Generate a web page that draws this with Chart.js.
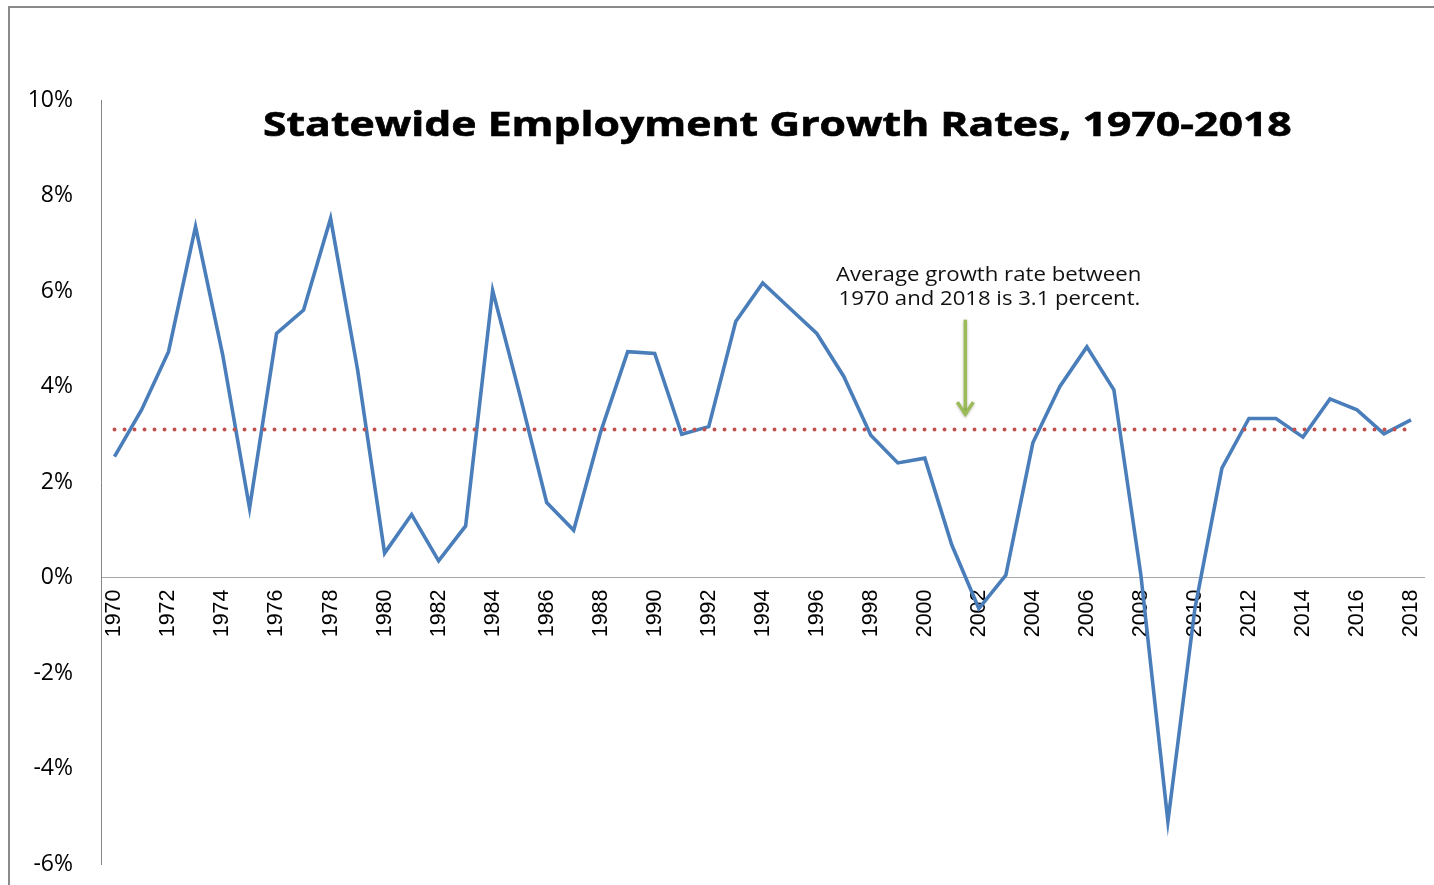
<!DOCTYPE html>
<html>
<head>
<meta charset="utf-8">
<title>Statewide Employment Growth Rates, 1970-2018</title>
<script src="https://cdn.jsdelivr.net/npm/chart.js@4.4.0/dist/chart.umd.min.js"></script>
<style>
  html, body { margin: 0; padding: 0; background: #fff; }
  #wrap { position: relative; width: 1434px; height: 885px; overflow: hidden; }
  #grafico { position: absolute; left: 0; top: 0; }
  .texto { position: absolute; white-space: nowrap; color: #000; font-family: "Open Sans", sans-serif; transform-origin: center top; }
  #titulo { font-weight: 700; font-size: 34px; line-height: 34px; -webkit-text-stroke: 0.6px #000; }
  .nota { font-size: 20px; line-height: 20px; color: #111; }
</style>
</head>
<body>
<div id="wrap">
  <canvas id="grafico" width="1434" height="885"></canvas>
  <div id="titulo" class="texto">Statewide Employment Growth Rates, 1970-2018</div>
  <div id="nota1" class="texto nota">Average growth rate between</div>
  <div id="nota2" class="texto nota">1970 and 2018 is 3.1 percent.</div>
</div>
<script>
// anos e taxas de crescimento (%)
const anos = ["1970","1971","1972","1973","1974","1975","1976","1977","1978","1979",
  "1980","1981","1982","1983","1984","1985","1986","1987","1988","1989",
  "1990","1991","1992","1993","1994","1995","1996","1997","1998","1999",
  "2000","2001","2002","2003","2004","2005","2006","2007","2008","2009",
  "2010","2011","2012","2013","2014","2015","2016","2017","2018"];

const taxas = [2.53, 3.51, 4.73, 7.35, 4.68, 1.45, 5.11, 5.60, 7.52, 4.35,
  0.51, 1.32, 0.35, 1.08, 6.01, 3.84, 1.57, 0.99, 3.05, 4.73,
  4.69, 3.00, 3.16, 5.36, 6.17, 5.64, 5.11, 4.21, 2.98, 2.40,
  2.50, 0.68, -0.65, 0.05, 2.82, 4.00, 4.83, 3.93, 0.05, -5.11,
  -0.65, 2.29, 3.33, 3.33, 2.94, 3.74, 3.51, 3.01, 3.30];

const media = 3.1;
const yTicks = [-6, -4, -2, 0, 2, 4, 6, 8, 10];

// seta verde (posicao no eixo x em indice de ano, de/para em %)
const setaPosicao = 31.5;
const setaInicio = 5.4;
const setaFim = 3.4;

const moldura = {
  id: "moldura",
  beforeDraw(chart) {
    const ctx = chart.ctx;
    ctx.save();
    ctx.strokeStyle = "#8a8a8a";
    ctx.lineWidth = 2;
    ctx.beginPath();
    ctx.moveTo(9, chart.height);
    ctx.lineTo(9, 7);
    ctx.lineTo(chart.width, 7);
    ctx.stroke();
    ctx.restore();
  }
};

const seta = {
  id: "seta",
  afterDatasetsDraw(chart) {
    const ctx = chart.ctx;
    const x = chart.scales.x.getPixelForValue(setaPosicao);
    const y0 = chart.scales.y.getPixelForValue(setaInicio);
    const y1 = chart.scales.y.getPixelForValue(setaFim);
    ctx.save();
    ctx.strokeStyle = "#9BBB59";
    ctx.lineWidth = 3.5;
    ctx.shadowColor = "rgba(0,0,0,0.25)";
    ctx.shadowBlur = 3;
    ctx.shadowOffsetY = 1;
    ctx.beginPath();
    ctx.moveTo(x, y0);
    ctx.lineTo(x, y1 - 2);
    ctx.stroke();
    ctx.beginPath();
    ctx.moveTo(x - 8, y1 - 13);
    ctx.lineTo(x, y1 - 1);
    ctx.lineTo(x + 8, y1 - 13);
    ctx.stroke();
    ctx.restore();
  }
};

const ctx = document.getElementById("grafico").getContext("2d");
const grafico = new Chart(ctx, {
  type: "line",
  data: {
    labels: anos,
    datasets: [
      {
        label: "Média",
        data: anos.map(() => media),
        borderColor: "#C0504D",
        borderWidth: 4,
        borderDash: [0, 10],
        borderCapStyle: "round",
        pointRadius: 0,
        fill: false
      },
      {
        label: "Taxa de crescimento",
        data: taxas,
        borderColor: "#4A7EBB",
        borderWidth: 3.6,
        pointRadius: 0,
        tension: 0,
        fill: false
      }
    ]
  },
  options: {
    responsive: false,
    animation: false,
    layout: { padding: { top: 100, bottom: 21, left: 0, right: 9.5 } },
    plugins: {
      legend: { display: false },
      tooltip: { enabled: false },
      title: { display: false }
    },
    scales: {
      x: {
        type: "category",
        offset: true,
        position: { y: 0 },
        afterFit: (scale) => {
          scale.paddingLeft = 0;
          scale.paddingRight = 0;
          scale.paddingTop = 0;
          scale.paddingBottom = 0;
        },
        grid: { display: false, drawTicks: false },
        border: { display: true, color: "#a6a6a6", width: 1 },
        ticks: {
          autoSkip: false,
          minRotation: 90,
          maxRotation: 90,
          padding: 12,
          color: "#000",
          font: { family: "'Liberation Sans Narrow', 'Arial Narrow', sans-serif", size: 21.5 },
          callback: (v, i) => (i % 2 === 0 ? anos[i] : "")
        }
      },
      y: {
        min: -6,
        max: 10,
        afterFit: (scale) => {
          scale.width = 101;
          scale.paddingTop = 0;
          scale.paddingBottom = 0;
        },
        afterBuildTicks: (scale) => { scale.ticks = yTicks.map(v => ({ value: v })); },
        grid: { display: false, drawTicks: false },
        border: { display: true, color: "#868686", width: 1 },
        ticks: {
          padding: 28,
          color: "#000",
          font: { family: "'Open Sans', sans-serif", size: 23 },
          callback: (v) => v + "%"
        }
      }
    }
  },
  plugins: [moldura, seta]
});

// textos: centro x, linha de base y e largura alvo
function posicionar(id, cx, base, largura) {
  const el = document.getElementById(id);
  const marca = document.createElement("span");
  marca.style.cssText = "display:inline-block;width:0;height:0;";
  el.appendChild(marca);
  const w = el.offsetWidth;
  const s = largura / w;
  el.style.left = (cx - w / 2) + "px";
  el.style.top = (base - marca.offsetTop) + "px";
  el.style.transform = "scaleX(" + s + ")";
}

document.fonts.ready.then(() => {
  posicionar("titulo", 777.5, 136, 1029);
  posicionar("nota1", 988.5, 281, 305);
  posicionar("nota2", 989, 305, 302);
});
</script>
</body>
</html>
